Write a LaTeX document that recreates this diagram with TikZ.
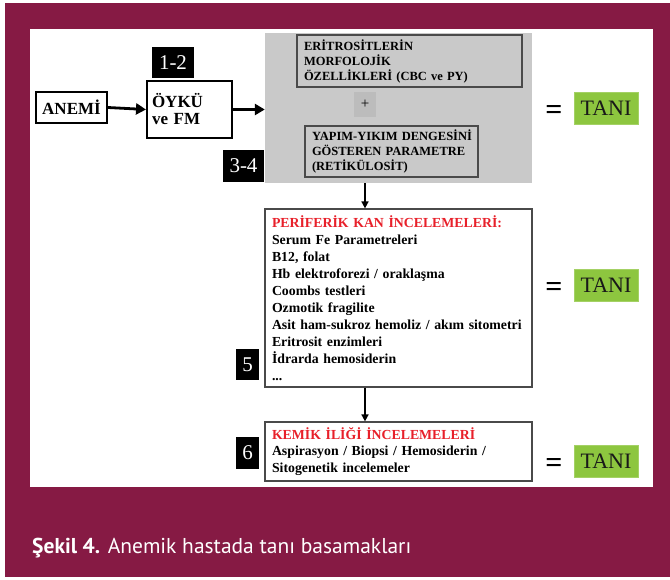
\documentclass[tikz,border=0pt]{standalone}
\usepackage{fontspec}
\setmainfont{Liberation Serif}
\newfontfamily\capfont{PT Sans}
\usetikzlibrary{arrows.meta}
\definecolor{frame}{HTML}{861A44}
\definecolor{panelgray}{HTML}{C9C9C9}
\definecolor{plusgray}{HTML}{BCBCBC}
\definecolor{tanigreen}{HTML}{8DC63F}
\definecolor{headred}{HTML}{E8202A}
\definecolor{boxline}{HTML}{4A4A4A}
\tikzset{
  plainbox/.style={draw=black, line width=2pt, fill=white, inner sep=0pt,
    font=\bfseries\fontsize{17}{17}\selectfont},
  stepnum/.style={fill=black, text=white, inner sep=0pt,
    font=\fontsize{21}{21}\selectfont},
  innerbox/.style={draw=boxline, line width=1.2pt, inner sep=0pt, align=left,
    font=\bfseries\fontsize{12.5}{15}\selectfont},
  listbox/.style={draw=boxline, line width=1.2pt, fill=white, inner sep=0pt,
    align=left, font=\bfseries\fontsize{13.8}{17}\selectfont},
  tanibox/.style={fill=tanigreen, draw=tanigreen!80!white, inner sep=0pt,
    minimum width=64pt, minimum height=32pt, text=black!90,
    font=\fontsize{22}{22}\selectfont},
  eqsign/.style={inner sep=0pt, font=\bfseries\fontsize{30}{30}\selectfont},
  bigarrow/.style={line width=2.8pt, -{Stealth[length=10pt,width=11pt,inset=0pt]}},
  smallarrow/.style={line width=1.6pt, -{Stealth[length=7pt,width=7pt,inset=0pt]}}
}
\begin{document}
\begin{tikzpicture}[x=1pt,y=-1pt]
\useasboundingbox (0,0) rectangle (670,579);
% page frame
\fill[white] (0,0) rectangle (670,579);
\fill[frame] (5,3) rectangle (670,577);
\fill[white] (30,29) rectangle (653,487);

% first row
\node[plainbox, minimum width=71pt, minimum height=31pt] (anemi) at (71.5,107.5) {ANEMİ};
\node[plainbox, minimum width=85pt, minimum height=57pt, text width=75pt,
      align=left] (oyku) at (189.5,109.5) {ÖYKÜ\\ve FM};
\node[stepnum, minimum width=42pt, minimum height=31pt] (s12) at (173,62.5) {1-2};

% grey assessment panel
\node[fill=panelgray, inner sep=0pt, minimum width=267pt, minimum height=150pt]
  (assess) at (398.5,108) {};
\node[innerbox, minimum width=225pt, minimum height=52pt, text width=211pt]
  (morph) at (409.5,61) {\mbox{ERİTROSİTLERİN}\\\mbox{MORFOLOJİK}\\\mbox{ÖZELLİKLERİ (CBC ve PY)}};
\node[fill=plusgray, inner sep=0pt, minimum width=22pt, minimum height=25pt,
      font=\fontsize{15}{15}\selectfont] (plus) at (365,104.5) {+};
\node[innerbox, minimum width=173pt, minimum height=51pt, text width=159pt]
  (retic) at (391.5,151.5) {\mbox{YAPIM-YIKIM DENGESİNİ}\\\mbox{GÖSTEREN PARAMETRE}\\\mbox{(RETİKÜLOSİT)}};
\node[stepnum, minimum width=41pt, minimum height=32pt] (s34) at (243.5,166) {3-4};

% peripheral blood box
\node[listbox, minimum width=267pt, minimum height=178pt, text width=253pt]
  (periph) at (398.5,298) {\mbox{\textcolor{headred}{PERİFERİK KAN İNCELEMELERİ:}}\\
  \mbox{Serum Fe Parametreleri}\\
  \mbox{B12, folat}\\
  \mbox{Hb elektroforezi / oraklaşma}\\
  \mbox{Coombs testleri}\\
  \mbox{Ozmotik fragilite}\\
  \mbox{Asit ham-sukroz hemoliz / akım sitometri}\\
  \mbox{Eritrosit enzimleri}\\
  \mbox{İdrarda hemosiderin}\\
  ...};
\node[stepnum, minimum width=23pt, minimum height=31pt] (s5) at (247.5,364.5) {5};

% bone marrow box
\node[listbox, minimum width=267pt, minimum height=59pt, text width=253pt,
      font=\bfseries\fontsize{13.8}{16.5}\selectfont]
  (marrow) at (398.5,451.5) {\mbox{\textcolor{headred}{KEMİK İLİĞİ İNCELEMELERİ}}\\
  \mbox{Aspirasyon / Biopsi / Hemosiderin /}\\
  \mbox{Sitogenetik incelemeler}};
\node[stepnum, minimum width=23pt, minimum height=32pt] (s6) at (247.5,453) {6};

% results
\node[tanibox] (tani1) at (606,108.5) {TANI};
\node[tanibox] (tani2) at (606,285) {TANI};
\node[tanibox] (tani3) at (606,461) {TANI};
\node[eqsign] (eq1) at (554,112) {=};
\node[eqsign] (eq2) at (554,289) {=};
\node[eqsign] (eq3) at (554,465) {=};

% connectors
\draw[bigarrow] (anemi.east) -- (oyku.west);
\draw[bigarrow] (oyku.east) -- (oyku.east -| assess.west);
\draw[smallarrow] (assess.south -| plus) -- (periph.north -| plus);
\draw[smallarrow] (periph.south -| plus) -- (marrow.north -| plus);

% caption
\node[anchor=base west, inner sep=0pt, text=white,
      font=\capfont\fontsize{21.5}{21.5}\selectfont] (caption) at (32,553)
  {\textbf{Şekil 4.} Anemik hastada tanı basamakları};
\end{tikzpicture}
\end{document}
